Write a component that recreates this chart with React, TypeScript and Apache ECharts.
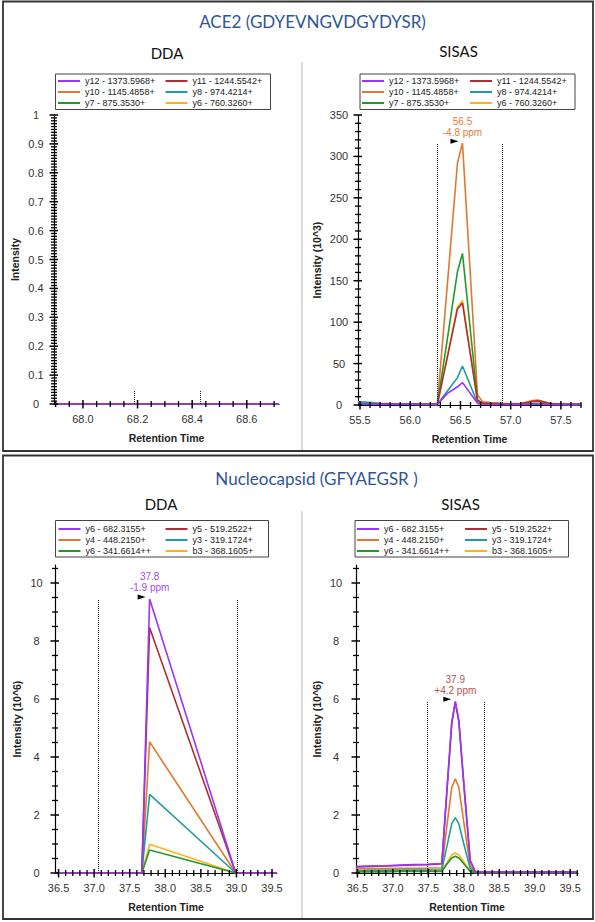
import React, { useEffect, useRef } from "react";
import * as echarts from "echarts";

const FONT = "'Liberation Sans', Arial, sans-serif";
const TITLE_FONT = "Lato, 'Open Sans', sans-serif";

const PURPLE = "#9933FF";
const RED = "#B0302F";
const ORANGE = "#E0782F";
const TEAL = "#1F9E9A";
const GREEN = "#22992B";
const YELLOW = "#FFB01F";

// ---------------- ACE2 (GDYEVNGVDGYDYSR) ----------------
const aceNames = ["y12 - 1373.5968+", "y11 - 1244.5542+", "y10 - 1145.4858+", "y8 - 974.4214+", "y7 - 875.3530+", "y6 - 760.3260+"];

// DDA (all traces flat at zero)
const aceDdaTime = [67.894, 68.0, 68.1, 68.2, 68.3, 68.4, 68.5, 68.6, 68.718];
const aceDdaY12 = [0, 0, 0, 0, 0, 0, 0, 0, 0];
const aceDdaY11 = [0, 0, 0, 0, 0, 0, 0, 0, 0];
const aceDdaY10 = [0, 0, 0, 0, 0, 0, 0, 0, 0];
const aceDdaY8 = [0, 0, 0, 0, 0, 0, 0, 0, 0];
const aceDdaY7 = [0, 0, 0, 0, 0, 0, 0, 0, 0];
const aceDdaY6 = [0, 0, 0, 0, 0, 0, 0, 0, 0];

// SISAS (10^3)
const aceSisasTime = [55.48, 55.55, 55.62, 55.7, 55.8, 55.9, 56.0, 56.1, 56.2, 56.27, 56.37, 56.47, 56.52, 56.67, 56.72, 56.8, 56.9, 57.0, 57.1, 57.17, 57.22, 57.27, 57.33, 57.4, 57.5, 57.6, 57.7];
const aceSisasY12 = [1.2, 1.0, 0.9, 0.8, 0.8, 0.7, 0.7, 0.6, 0.6, 0.5, 14, 22, 27, 2, 0.8, 0.6, 0.5, 0.5, 0.5, 0.8, 1.0, 1.0, 0.8, 0.5, 0.5, 0.4, 0.4];
const aceSisasY11 = [1.5, 1.4, 1.2, 1.0, 1.0, 0.9, 0.9, 0.8, 0.8, 0.8, 58, 116, 123, 5, 2.5, 2, 1.5, 1.2, 1.5, 3, 4.5, 5, 3.5, 1.5, 1, 0.8, 0.8];
const aceSisasY10 = [2, 1.8, 1.5, 1.2, 1.2, 1.0, 1.0, 1.0, 1.0, 1.0, 146, 292, 316, 12, 4, 3, 2, 1.5, 2, 4, 5.5, 6, 4, 2, 1.2, 1, 1];
const aceSisasY8 = [4, 3.5, 3, 2.2, 1.8, 1.5, 1.2, 1.0, 0.9, 0.8, 17, 33, 47, 2.5, 1, 0.8, 0.7, 0.6, 0.6, 0.8, 1, 1, 0.8, 0.6, 0.5, 0.5, 0.5];
const aceSisasY7 = [1.5, 1.3, 1.2, 1.0, 1.0, 0.9, 0.9, 0.8, 0.8, 0.8, 80, 161, 183, 6, 2, 1.5, 1.2, 1, 1, 1.5, 2, 2, 1.5, 1, 0.8, 0.8, 0.8];
const aceSisasY6 = [1.5, 1.3, 1.2, 1.0, 1.0, 0.9, 0.9, 0.8, 0.8, 0.8, 59, 118, 126, 5, 2.5, 2, 1.5, 1.2, 1.5, 3.5, 5, 5.5, 4, 1.5, 1, 0.8, 0.8];

// ---------------- Nucleocapsid (GFYAEGSR ) ----------------
const ncNames = ["y6 - 682.3155+", "y5 - 519.2522+", "y4 - 448.2150+", "y3 - 319.1724+", "y6 - 341.6614++", "b3 - 368.1605+"];

// DDA (10^6)
const ncDdaTime = [36.45, 36.7, 37.0, 37.3, 37.5, 37.67, 37.78, 38.99, 39.2, 39.4, 39.57];
const ncDdaY6 = [0, 0, 0, 0, 0, 0, 9.45, 0, 0, 0, 0];
const ncDdaY5 = [0, 0, 0, 0, 0, 0, 8.46, 0, 0, 0, 0];
const ncDdaY4 = [0, 0, 0, 0, 0, 0, 4.52, 0, 0, 0, 0];
const ncDdaY3 = [0, 0, 0, 0, 0, 0, 2.71, 0, 0, 0, 0];
const ncDdaY6pp = [0, 0, 0, 0, 0, 0, 0.79, 0, 0, 0, 0];
const ncDdaB3 = [0, 0, 0, 0, 0, 0, 0.99, 0, 0, 0, 0];

// SISAS (10^6)
const ncSisasTime = [36.48, 36.7, 36.9, 37.1, 37.3, 37.5, 37.69, 37.76, 37.83, 37.88, 37.93, 38.0, 38.09, 38.16, 38.25, 38.4, 38.6, 38.8, 39.0, 39.2, 39.4, 39.61];
const ncSisasY6 = [0.22, 0.24, 0.25, 0.27, 0.29, 0.3, 0.33, 2.8, 5.2, 5.92, 5.26, 3.1, 0.44, 0.05, 0.04, 0.04, 0.04, 0.04, 0.03, 0.03, 0.03, 0.03];
const ncSisasY5 = [0.21, 0.23, 0.24, 0.26, 0.28, 0.29, 0.32, 2.75, 5.15, 5.88, 5.22, 3.05, 0.43, 0.05, 0.04, 0.04, 0.04, 0.04, 0.03, 0.03, 0.03, 0.03];
const ncSisasY4 = [0.14, 0.15, 0.15, 0.16, 0.16, 0.17, 0.18, 1.6, 2.95, 3.25, 2.95, 1.75, 0.25, 0.03, 0.02, 0.02, 0.02, 0.02, 0.02, 0.02, 0.02, 0.02];
const ncSisasY3 = [0.08, 0.09, 0.09, 0.1, 0.1, 0.1, 0.11, 0.9, 1.7, 1.91, 1.7, 1.0, 0.15, 0.02, 0.02, 0.02, 0.02, 0.02, 0.02, 0.02, 0.02, 0.02];
const ncSisasY6pp = [0.04, 0.04, 0.04, 0.05, 0.05, 0.05, 0.05, 0.3, 0.52, 0.58, 0.52, 0.32, 0.05, 0.01, 0.01, 0.01, 0.01, 0.01, 0.01, 0.01, 0.01, 0.01];
const ncSisasB3 = [0.07, 0.07, 0.08, 0.08, 0.08, 0.09, 0.09, 0.35, 0.62, 0.69, 0.62, 0.38, 0.06, 0.02, 0.02, 0.02, 0.02, 0.02, 0.02, 0.02, 0.02, 0.02];

// ---------------- tick labels ----------------
const aceDdaXTicks = [68.0, 68.2, 68.4, 68.6];
const aceDdaYTicks = [0, 0.1, 0.2, 0.3, 0.4, 0.5, 0.6, 0.7, 0.8, 0.9, 1];
const aceSisasXTicks = [55.5, 56.0, 56.5, 57.0, 57.5];
const aceSisasYTicks = [0, 50, 100, 150, 200, 250, 300, 350];
const ncXTicks = [36.5, 37.0, 37.5, 38.0, 38.5, 39.0, 39.5];
const ncYTicks = [0, 2, 4, 6, 8, 10];

function steps(a: number, b: number, s: number, exclude: number[]) {
  const out: number[] = [];
  const n = Math.round((b - a) / s);
  for (let i = 0; i <= n; i++) {
    const v = Math.round((a + i * s) * 10000) / 10000;
    if (!exclude.some((e) => Math.abs(e - v) < 1e-9)) out.push(v);
  }
  return out;
}

const CFGS = [
  {
    xMin: 67.894, xMax: 68.718, xMajor: aceDdaXTicks, xMinor: steps(67.9, 68.7, 0.05, aceDdaXTicks),
    yMin: 0, yMax: 1, yMajor: aceDdaYTicks, yMinor: steps(0, 1, 0.01, aceDdaYTicks),
    yName: "Intensity", yNameGap: 33.5, yLabelMargin: 18, xNameGap: 28,
  },
  {
    xMin: 55.48, xMax: 57.7, xMajor: aceSisasXTicks, xMinor: steps(55.5, 57.7, 0.1, aceSisasXTicks),
    yMin: 0, yMax: 350, yMajor: aceSisasYTicks, yMinor: steps(0, 350, 10, aceSisasYTicks),
    yName: "Intensity (10^3)", yNameGap: 36, yLabelMargin: 19, xNameGap: 28,
  },
  {
    xMin: 36.45, xMax: 39.57, xMajor: ncXTicks, xMinor: steps(36.5, 39.5, 0.1, ncXTicks),
    yMin: 0, yMax: 10.62, yMajor: ncYTicks, yMinor: steps(0, 10.5, 0.5, ncYTicks),
    yName: "Intensity (10^6)", yNameGap: 32.5, yLabelMargin: 18.5, xNameGap: 28,
  },
  {
    xMin: 36.48, xMax: 39.61, xMajor: ncXTicks, xMinor: steps(36.5, 39.6, 0.1, ncXTicks),
    yMin: 0, yMax: 10.62, yMajor: ncYTicks, yMinor: steps(0, 10.5, 0.5, ncYTicks),
    yName: "Intensity (10^6)", yNameGap: 33.5, yLabelMargin: 20, xNameGap: 28,
  },
];

const nameStyle = { fontFamily: FONT, fontSize: 10.5, fontWeight: "bold", color: "#222" };

function xAxisFor(g: number, c: any) {
  return {
    type: "value", gridIndex: g, min: c.xMin, max: c.xMax, position: "bottom",
    axisLine: { show: true, onZero: false, lineStyle: { color: "#000", width: 1.2 } },
    axisTick: { show: false },
    axisLabel: { show: true, customValues: c.xMajor, formatter: (v: number) => v.toFixed(1), margin: 9, fontSize: 11, color: "#333", fontFamily: FONT },
    splitLine: { show: false },
    name: "Retention Time", nameLocation: "middle", nameGap: c.xNameGap, nameTextStyle: nameStyle,
  };
}
function yAxisFor(g: number, c: any) {
  return {
    type: "value", gridIndex: g, min: c.yMin, max: c.yMax, position: "left",
    axisLine: { show: true, onZero: false, lineStyle: { color: "#000", width: 1.2 } },
    axisTick: { show: false },
    axisLabel: { show: true, customValues: c.yMajor, align: "center", margin: c.yLabelMargin, fontSize: 11, color: "#333", fontFamily: FONT },
    splitLine: { show: false },
    name: c.yName, nameLocation: "middle", nameGap: c.yNameGap, nameTextStyle: nameStyle,
  };
}

function line(g: number, name: string, color: string, time: number[], vals: number[], extra: any = {}) {
  return {
    type: "line", name, xAxisIndex: g, yAxisIndex: g,
    data: time.map((t, i) => [t, vals[i]]),
    symbol: "none", showSymbol: false, silent: true,
    lineStyle: { width: 1.6, color }, itemStyle: { color },
    ...extra,
  };
}

function windowLines(xa: number, xb: number, top: number) {
  return {
    silent: true, symbol: ["none", "none"], label: { show: false },
    lineStyle: { type: "dotted", color: "#222", width: 1 },
    data: [
      [{ coord: [xa, 0] }, { coord: [xa, top] }],
      [{ coord: [xb, 0] }, { coord: [xb, top] }],
    ],
  };
}

function apexMarker(x: number, y: number, text: string, color: string) {
  return {
    silent: true,
    data: [
      { coord: [x, y], symbol: "triangle", symbolSize: [5, 8], symbolRotate: -90, symbolOffset: [-8, -2], itemStyle: { color: "#000" }, label: { show: false } },
      { coord: [x, y], symbol: "circle", symbolSize: 1, itemStyle: { color: "rgba(0,0,0,0)" },
        label: { show: true, position: "top", distance: 5, formatter: text, color, fontSize: 10, lineHeight: 11, fontFamily: FONT } },
    ],
  };
}

function legendPair(names: string[], x1: number, x2: number, top: number) {
  const base = {
    orient: "vertical", top, icon: "rect", itemWidth: 22, itemHeight: 2, itemGap: 2, padding: 0,
    textStyle: { fontSize: 9, lineHeight: 9, color: "#222", fontFamily: FONT },
  };
  return [
    { ...base, left: x1, data: [names[0], names[2], names[4]] },
    { ...base, left: x2, data: [names[1], names[3], names[5]] },
  ];
}

function baseGraphic() {
  const text = (x: number, y: number, t: string, size: number, color: string, family: string) => ({
    type: "text", x, y, silent: true,
    style: { text: t, fill: color, fontSize: size, fontFamily: family, align: "center", verticalAlign: "middle" },
  });
  const rect = (x: number, y: number, w: number, h: number, stroke: string, lw: number) => ({
    type: "rect", silent: true, shape: { x, y, width: w, height: h },
    style: { fill: "none", stroke, lineWidth: lw },
  });
  const vline = (x: number, y1: number, y2: number) => ({
    type: "line", silent: true, shape: { x1: x, y1, x2: x, y2 },
    style: { stroke: "#cfcfcf", lineWidth: 1.5 },
  });
  return [
    rect(3, 1.5, 590, 449.5, "#333", 1.8),
    rect(3, 455.5, 590, 463.5, "#333", 1.8),
    vline(302, 62, 450),
    vline(302, 511, 918),
    text(312.5, 21, "ACE2 (GDYEVNGVDGYDYSR)", 17, "#2F5597", TITLE_FONT),
    text(316.5, 478.5, "Nucleocapsid (GFYAEGSR )", 17, "#2F5597", TITLE_FONT),
    text(167, 52.5, "DDA", 15, "#111", TITLE_FONT),
    text(458.5, 50.5, "SISAS", 15, "#111", TITLE_FONT),
    text(161, 503.5, "DDA", 15, "#111", TITLE_FONT),
    text(460.5, 504, "SISAS", 15, "#111", TITLE_FONT),
    rect(55.5, 74, 215, 35.5, "#444", 1),
    rect(360, 74, 215, 35.5, "#444", 1),
    rect(55.5, 520.5, 213, 36.5, "#444", 1),
    rect(355, 520.5, 213.5, 36.5, "#444", 1),
  ];
}

// tick marks crossing the axis lines, positioned through each grid's scales
function tickGraphics(chart: any) {
  const out: any[] = [];
  const seg = (x1: number, y1: number, x2: number, y2: number, w: number) => ({
    type: "line", silent: true, z: 10, shape: { x1, y1, x2, y2 },
    style: { stroke: "#000", lineWidth: w },
  });
  CFGS.forEach((c: any, g: number) => {
    const xt = (v: number, major: boolean) => {
      const p = chart.convertToPixel({ gridIndex: g }, [v, c.yMin]);
      if (!p) return;
      out.push(seg(p[0], p[1] - (major ? 4 : 3), p[0], p[1] + (major ? 4.5 : 3), major ? 1.5 : 1.3));
    };
    const yt = (v: number, major: boolean) => {
      const p = chart.convertToPixel({ gridIndex: g }, [c.xMin, v]);
      if (!p) return;
      out.push(seg(p[0] - (major ? 4.5 : 3), p[1], p[0] + (major ? 4 : 3), p[1], major ? 1.5 : 1.3));
    };
    c.xMajor.forEach((v: number) => xt(v, true));
    c.xMinor.forEach((v: number) => xt(v, false));
    c.yMajor.forEach((v: number) => yt(v, true));
    c.yMinor.forEach((v: number) => yt(v, false));
  });
  return out;
}

function buildOption() {
  const series = [
    // top DDA
    line(0, aceNames[5], YELLOW, aceDdaTime, aceDdaY6),
    line(0, aceNames[2], ORANGE, aceDdaTime, aceDdaY10),
    line(0, aceNames[3], TEAL, aceDdaTime, aceDdaY8),
    line(0, aceNames[4], GREEN, aceDdaTime, aceDdaY7),
    line(0, aceNames[1], RED, aceDdaTime, aceDdaY11),
    line(0, aceNames[0], PURPLE, aceDdaTime, aceDdaY12, { markLine: windowLines(68.187, 68.43, 0.048) }),
    // top SISAS
    line(1, aceNames[5], YELLOW, aceSisasTime, aceSisasY6),
    line(1, aceNames[2], ORANGE, aceSisasTime, aceSisasY10, { markPoint: apexMarker(56.52, 316, "56.5\n-4.8 ppm", "#E0803A") }),
    line(1, aceNames[3], TEAL, aceSisasTime, aceSisasY8),
    line(1, aceNames[4], GREEN, aceSisasTime, aceSisasY7),
    line(1, aceNames[1], RED, aceSisasTime, aceSisasY11),
    line(1, aceNames[0], PURPLE, aceSisasTime, aceSisasY12, { markLine: windowLines(56.27, 56.92, 316) }),
    // bottom DDA
    line(2, ncNames[5], YELLOW, ncDdaTime, ncDdaB3),
    line(2, ncNames[2], ORANGE, ncDdaTime, ncDdaY4),
    line(2, ncNames[3], TEAL, ncDdaTime, ncDdaY3),
    line(2, ncNames[4], GREEN, ncDdaTime, ncDdaY6pp),
    line(2, ncNames[1], RED, ncDdaTime, ncDdaY5),
    line(2, ncNames[0], PURPLE, ncDdaTime, ncDdaY6, {
      markLine: windowLines(37.06, 39.01, 9.45),
      markPoint: apexMarker(37.78, 9.45, "37.8\n-1.9 ppm", "#A04CF0"),
    }),
    // bottom SISAS
    line(3, ncNames[5], YELLOW, ncSisasTime, ncSisasB3),
    line(3, ncNames[2], ORANGE, ncSisasTime, ncSisasY4),
    line(3, ncNames[3], TEAL, ncSisasTime, ncSisasY3),
    line(3, ncNames[4], GREEN, ncSisasTime, ncSisasY6pp),
    line(3, ncNames[1], RED, ncSisasTime, ncSisasY5),
    line(3, ncNames[0], PURPLE, ncSisasTime, ncSisasY6, {
      markLine: windowLines(37.48, 38.29, 5.93),
      markPoint: apexMarker(37.88, 5.92, "37.9\n+4.2 ppm", "#C0504D"),
    }),
  ];

  return {
    animation: false,
    backgroundColor: "#fff",
    grid: [
      { left: 54, top: 115, width: 225, height: 289 },
      { left: 358, top: 115, width: 223, height: 290 },
      { left: 55, top: 565, width: 222, height: 308 },
      { left: 356, top: 565, width: 222, height: 308 },
    ],
    xAxis: CFGS.map((c, g) => xAxisFor(g, c)),
    yAxis: CFGS.map((c, g) => yAxisFor(g, c)),
    legend: [
      ...legendPair(aceNames, 58, 165.5, 76.5),
      ...legendPair(aceNames, 362, 470, 76.5),
      ...legendPair(ncNames, 58.5, 165.5, 524.5),
      ...legendPair(ncNames, 357, 465, 524.5),
    ],
    series,
    graphic: baseGraphic(),
  };
}

export default function App() {
  const ref = useRef<HTMLDivElement>(null);
  useEffect(() => {
    if (!ref.current) return;
    const chart = echarts.init(ref.current, undefined, { renderer: "svg" });
    chart.setOption(buildOption() as any);
    chart.setOption({ graphic: [...baseGraphic(), ...tickGraphics(chart)] } as any);
    return () => chart.dispose();
  }, []);
  return (
    <div
      ref={ref}
      style={{ position: "fixed", left: 0, top: 0, width: 595, height: 922, background: "#fff" }}
    />
  );
}
